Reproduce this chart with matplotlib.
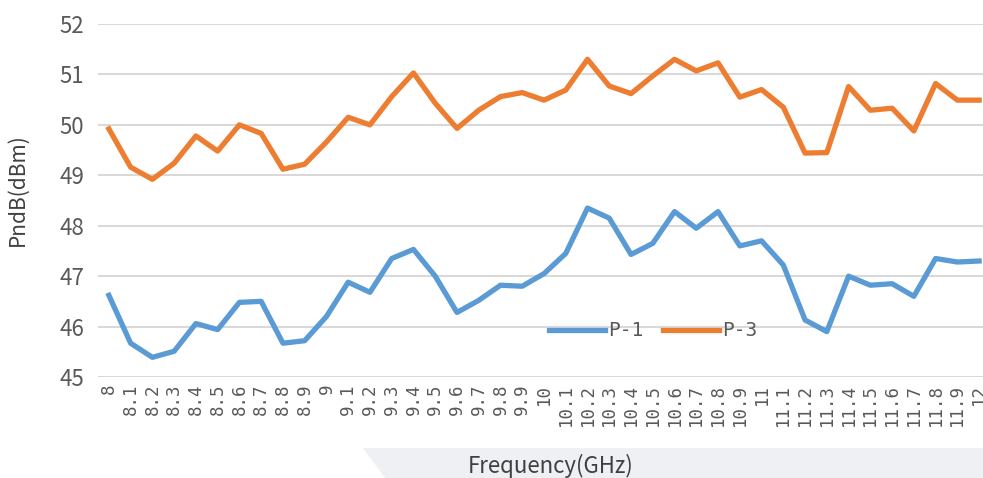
import matplotlib
matplotlib.use("Agg")
import matplotlib.pyplot as plt
from matplotlib.patches import Polygon

plt.rcParams["font.family"] = ["Noto Sans CJK SC", "DejaVu Sans"]

freq_labels = [
    "8", "8.1", "8.2", "8.3", "8.4", "8.5", "8.6", "8.7", "8.8", "8.9",
    "9", "9.1", "9.2", "9.3", "9.4", "9.5", "9.6", "9.7", "9.8", "9.9",
    "10", "10.1", "10.2", "10.3", "10.4", "10.5", "10.6", "10.7", "10.8", "10.9",
    "11", "11.1", "11.2", "11.3", "11.4", "11.5", "11.6", "11.7", "11.8", "11.9",
    "12",
]
p1 = [
    46.62, 45.67, 45.39, 45.51, 46.06, 45.94, 46.48, 46.50, 45.67, 45.72,
    46.20, 46.88, 46.68, 47.35, 47.53, 47.00, 46.28, 46.52, 46.82, 46.80,
    47.05, 47.45, 48.35, 48.15, 47.43, 47.65, 48.28, 47.95, 48.28, 47.60,
    47.70, 47.22, 46.13, 45.90, 47.00, 46.82, 46.85, 46.60, 47.35, 47.28,
    47.30,
]
p3 = [
    49.92, 49.16, 48.92, 49.24, 49.78, 49.48, 50.00, 49.83, 49.12, 49.22,
    49.66, 50.15, 50.00, 50.56, 51.03, 50.43, 49.93, 50.29, 50.56, 50.64,
    50.49, 50.69, 51.30, 50.77, 50.62, 50.97, 51.30, 51.07, 51.23, 50.55,
    50.70, 50.35, 49.44, 49.45, 50.76, 50.29, 50.33, 49.88, 50.82, 50.49,
    50.49,
]

W, H = 983, 478
fig = plt.figure(figsize=(W / 100, H / 100), dpi=100)

# grey band behind the x axis title
band = Polygon(
    [(363 / W, 1 - 448 / H), (1.0, 1 - 448 / H), (1.0, 0.0), (385 / W, 0.0)],
    closed=True, transform=fig.transFigure, facecolor="#EEF0F3",
    edgecolor="none", zorder=0,
)
fig.patches.append(band)

ax = fig.add_axes([98 / W, (H - 377) / H, (990 - 98) / W, (377 - 24) / H])
ax.set_facecolor("none")

x = list(range(len(freq_labels)))
ax.plot(x, p1, color="#5B9BD5", lw=3.8, label="P-1", solid_joinstyle="round")
ax.plot(x, p3, color="#ED7D31", lw=3.8, label="P-3", solid_joinstyle="round")

ax.set_xlim(-0.5, len(freq_labels) - 0.5)
ax.set_ylim(45, 52)
ax.set_yticks(range(45, 53))
ax.set_xticks(x)
ax.set_xticklabels(freq_labels, rotation=90, fontsize=12.5, color="#595959",
                   family="DejaVu Sans Mono")
ax.tick_params(axis="y", labelsize=16, colors="#595959", length=0, pad=10)
ax.tick_params(axis="x", length=0, pad=5)
ax.grid(axis="y", color="#D9D9D9", lw=1.5)
ax.set_axisbelow(True)
for s in ax.spines.values():
    s.set_visible(False)

leg = ax.legend(
    loc="center", bbox_to_anchor=((653 - 98) / 892, (377 - 331) / 353),
    ncol=2, frameon=False, handlelength=2.9, columnspacing=1.0,
    handletextpad=0.15, prop={"family": "DejaVu Sans Mono", "size": 14},
)
for t in leg.get_texts():
    t.set_color("#595959")

fig.text(18 / W, 1 - 190 / H, "PndB(dBm)", rotation=90, ha="center",
         va="center", fontsize=15, color="#404040")
fig.text(551 / W, 1 - 466 / H, "Frequency(GHz)", ha="center", va="center",
         fontsize=16, color="#404040")

fig.savefig("out.png", dpi=100)
